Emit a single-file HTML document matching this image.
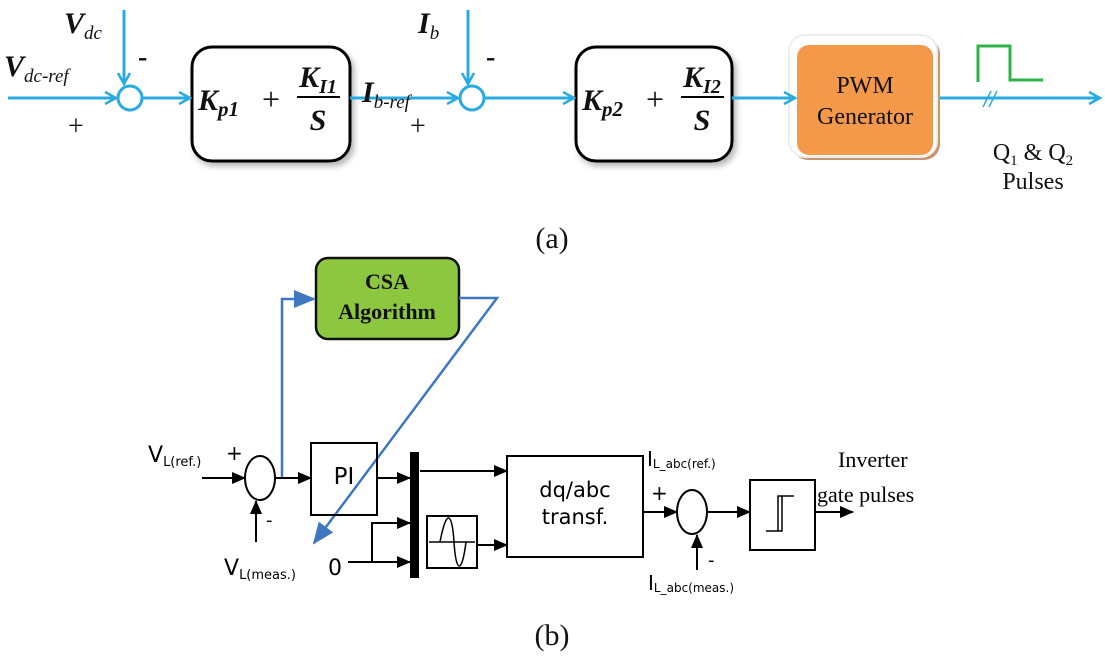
<!DOCTYPE html>
<html><head><meta charset="utf-8"><style>
html,body{margin:0;padding:0;background:#fff;}
svg{display:block;}
</style></head><body>
<svg width="1105" height="660" viewBox="0 0 1105 660" xmlns="http://www.w3.org/2000/svg">
<defs>
<marker id="ob" markerWidth="14" markerHeight="14" refX="12" refY="7" orient="auto" markerUnits="userSpaceOnUse"><path d="M1,1 L12,7 L1,13" fill="none" stroke="#29abe2" stroke-width="2.5"/></marker>
<marker id="bk" markerWidth="14" markerHeight="12" refX="13" refY="6" orient="auto" markerUnits="userSpaceOnUse"><path d="M0,0 L14,6 L0,12 z" fill="#000"/></marker>
<marker id="bl" markerWidth="22" markerHeight="18" refX="20" refY="9" orient="auto" markerUnits="userSpaceOnUse"><path d="M0,0 L22,9 L0,18 z" fill="#3f78c0"/></marker>
<filter id="sh" x="-10%" y="-10%" width="130%" height="130%"><feDropShadow dx="3" dy="4" stdDeviation="3" flood-color="#888" flood-opacity="0.6"/></filter>
</defs>
<rect x="192" y="47" width="158" height="114" rx="20" fill="#fff" stroke="#000" stroke-width="3" filter="url(#sh)"/>
<rect x="576" y="47" width="156" height="114" rx="20" fill="#fff" stroke="#000" stroke-width="3" filter="url(#sh)"/>
<rect x="792" y="38" width="148" height="122" rx="16" fill="#c89470"/>
<rect x="789" y="35" width="148" height="122" rx="16" fill="#fff" stroke="#eee" stroke-width="2"/>
<rect x="797" y="45" width="136" height="110" rx="12" fill="#f4994a"/>
<g fill="none" stroke="#29abe2" stroke-width="3">
<line x1="8" y1="98" x2="116" y2="98" marker-end="url(#ob)"/>
<line x1="124" y1="10" x2="124" y2="84" marker-end="url(#ob)"/>
<circle cx="130" cy="98" r="12"/>
<line x1="142" y1="98" x2="190" y2="98" marker-end="url(#ob)"/>
<line x1="350" y1="98" x2="458" y2="98" marker-end="url(#ob)"/>
<line x1="468" y1="10" x2="468" y2="84" marker-end="url(#ob)"/>
<circle cx="472" cy="98" r="12"/>
<line x1="484" y1="98" x2="574" y2="98" marker-end="url(#ob)"/>
<line x1="732" y1="98" x2="795" y2="98" marker-end="url(#ob)"/>
<line x1="940" y1="98" x2="1100" y2="98" marker-end="url(#ob)"/>
<line x1="983" y1="107" x2="991" y2="91" stroke-width="1.5"/>
<line x1="989" y1="107" x2="997" y2="91" stroke-width="1.5"/>
</g>
<path d="M978,82 L978,46 L1010,46 L1010,80 L1043,80" fill="none" stroke="#2db34a" stroke-width="3"/>
<g font-family="Liberation Serif, serif" fill="#111">
<text x="865" y="93" text-anchor="middle" font-size="24">PWM</text>
<text x="865" y="124" text-anchor="middle" font-size="24">Generator</text>
<text x="1033" y="160" text-anchor="middle" font-size="24">Q<tspan font-size="15" dy="5">1</tspan><tspan dy="-5"> &amp; Q</tspan><tspan font-size="15" dy="5">2</tspan></text>
<text x="1033" y="189" text-anchor="middle" font-size="24">Pulses</text>
<g font-weight="bold" font-style="italic">
<text x="64" y="33" font-size="30">V<tspan font-size="19" dy="6" font-weight="normal">dc</tspan></text>
<text x="4" y="76" font-size="30">V<tspan font-size="19" dy="6" font-weight="normal">dc-ref</tspan></text>
<text x="418" y="33" font-size="30">I<tspan font-size="19" dy="6" font-weight="normal">b</tspan></text>
<text x="362" y="102" font-size="30">I<tspan font-size="19" dy="6" font-weight="normal">b-ref</tspan></text>
<text x="198" y="110" font-size="30">K<tspan font-size="21" dy="6">p1</tspan></text>
<text x="262" y="110" font-size="32" font-style="normal" font-weight="normal">+</text>
<text x="318" y="87" text-anchor="middle" font-size="30">K<tspan font-size="20" dy="6">I1</tspan></text>
<text x="318" y="130" text-anchor="middle" font-size="30">S</text>
<text x="582" y="110" font-size="30">K<tspan font-size="21" dy="6">p2</tspan></text>
<text x="646" y="110" font-size="32" font-style="normal" font-weight="normal">+</text>
<text x="702" y="87" text-anchor="middle" font-size="30">K<tspan font-size="20" dy="6">I2</tspan></text>
<text x="702" y="130" text-anchor="middle" font-size="30">S</text>
</g>
<text x="138" y="66" font-size="28" font-weight="bold">-</text>
<text x="486" y="66" font-size="28" font-weight="bold">-</text>
<text x="68" y="135" font-size="28">+</text>
<text x="410" y="135" font-size="28">+</text>
<text x="552" y="248" text-anchor="middle" font-size="30">(a)</text>
<text x="552" y="645" text-anchor="middle" font-size="30">(b)</text>
</g>
<line x1="297" y1="97" x2="340" y2="97" stroke="#000" stroke-width="2"/>
<line x1="681" y1="97" x2="724" y2="97" stroke="#000" stroke-width="2"/>

<!-- (b) -->
<rect x="316" y="258" width="143" height="81" rx="12" fill="#8dc63f" stroke="#111" stroke-width="2.5"/>
<g font-family="Liberation Serif, serif" font-weight="bold" font-size="22" text-anchor="middle" fill="#111">
<text x="387" y="289">CSA</text><text x="387" y="319">Algorithm</text></g>
<g fill="none" stroke="#3f78c0" stroke-width="2.5">
<polyline points="282,478 282,299 314,299" marker-end="url(#bl)"/>
<polyline points="459,298 497,298 314,543" marker-end="url(#bl)"/>
</g>
<g fill="none" stroke="#000" stroke-width="2">
<line x1="202" y1="478" x2="245" y2="478" marker-end="url(#bk)"/>
<ellipse cx="260" cy="478" rx="15" ry="22"/>
<line x1="256" y1="542" x2="256" y2="501" marker-end="url(#bk)"/>
<line x1="275" y1="478" x2="311" y2="478" marker-end="url(#bk)"/>
<rect x="311" y="443" width="66" height="72"/>
<line x1="377" y1="478" x2="410" y2="478" marker-end="url(#bk)"/>
<line x1="420" y1="471" x2="507" y2="471" marker-end="url(#bk)"/>
<rect x="427" y="516" width="50" height="52"/>
<path d="M429,542 L475,542 M440,542 C446,510 452,510 454,542 C456,574 462,574 466,542" stroke-width="1.5"/>
<line x1="477" y1="545" x2="507" y2="545" marker-end="url(#bk)"/>
<rect x="507" y="456" width="136" height="101"/>
<line x1="348" y1="562" x2="410" y2="562" marker-end="url(#bk)"/>
<polyline points="372,562 372,523 410,523" marker-end="url(#bk)"/>
<line x1="643" y1="512" x2="677" y2="512" marker-end="url(#bk)"/>
<ellipse cx="692" cy="512" rx="15" ry="22"/>
<line x1="697" y1="570" x2="697" y2="535" marker-end="url(#bk)"/>
<line x1="707" y1="512" x2="750" y2="512" marker-end="url(#bk)"/>
<rect x="750" y="480" width="65" height="70"/>
<path d="M766,531 L782,531 L782,496 M778,531 L778,496 L794,496" stroke-width="1.5"/>
<line x1="815" y1="512" x2="853" y2="512" marker-end="url(#bk)"/>
</g>
<rect x="410" y="452" width="9" height="126" fill="#000"/>
<g font-family="DejaVu Sans, sans-serif" fill="#000">
<text x="148" y="462" font-size="22">V<tspan font-size="13" dy="4">L(ref.)</tspan></text>
<text x="224" y="575" font-size="22">V<tspan font-size="13" dy="4">L(meas.)</tspan></text>
<text x="226" y="460" font-size="20">+</text>
<text x="266" y="526" font-size="18">-</text>
<text x="328" y="575" font-size="22">0</text>
<text x="344" y="484" text-anchor="middle" font-size="23">PI</text>
<text x="575" y="497" text-anchor="middle" font-size="21">dq/abc</text>
<text x="575" y="524" text-anchor="middle" font-size="21">transf.</text>
<text x="647" y="466" font-size="20">I<tspan font-size="12" dy="2">L_abc(ref.)</tspan></text>
<text x="648" y="590" font-size="20">I<tspan font-size="12" dy="2">L_abc(meas.)</tspan></text>
<text x="651" y="500" font-size="20">+</text>
<text x="708" y="566" font-size="18">-</text>
</g>
<g font-family="Liberation Serif, serif" font-size="22" fill="#000">
<text x="838" y="467">Inverter</text>
<text x="817" y="502">gate pulses</text>
</g>
</svg>
</body></html>
